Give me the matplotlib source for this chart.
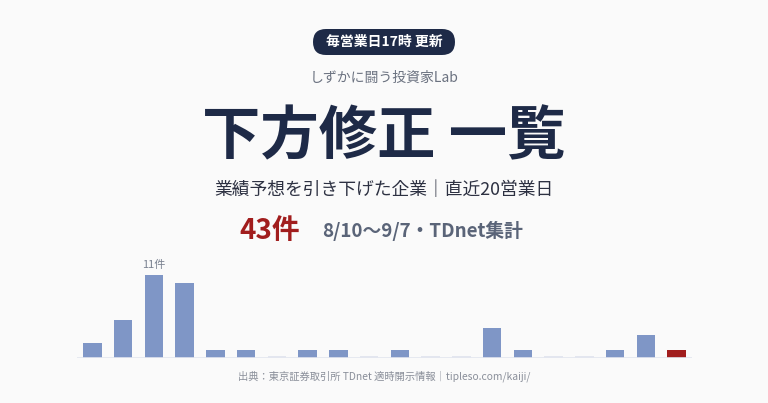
import matplotlib
matplotlib.use("Agg")
import matplotlib.pyplot as plt
from matplotlib.patches import FancyBboxPatch

plt.rcParams['font.family'] = ['Noto Sans CJK JP', 'DejaVu Sans']

# 直近20営業日の下方修正件数
counts = [2, 5, 11, 10, 1, 1, 0, 1, 1, 0, 1, 0, 0, 4, 1, 0, 0, 1, 3, 1]
total_label = "43件"
period_label = "8/10〜9/7・TDnet集計"
badge_label = "毎営業日17時 更新"
brand_label = "しずかに闘う投資家Lab"
title_label = "下方修正 一覧"
subtitle_label = "業績予想を引き下げた企業｜直近20営業日"
source_label = "出典：東京証券取引所 TDnet 適時開示情報｜tipleso.com/kaiji/"

# 色
bg = "#fafafa"
navy = "#1e2a47"
bar_blue = "#7f96c6"
bar_red = "#a11d1d"
stub = "#e3e6ef"
grey = "#6b7280"

W, H = 768, 403
fig = plt.figure(figsize=(W / 100, H / 100), dpi=100, facecolor=bg)

# 全体をピクセル座標で扱う背景用の軸
base = fig.add_axes([0, 0, 1, 1])
base.set_xlim(0, W)
base.set_ylim(H, 0)
base.axis("off")
base.set_facecolor(bg)

# バッジ
badge = FancyBboxPatch((313, 29), 142, 26, boxstyle="round,pad=0,rounding_size=13",
                       fc=navy, ec="none")
base.add_patch(badge)
base.text(384, 42, badge_label, color="white", fontsize=10, fontweight="bold",
          ha="center", va="center")

base.text(384, 78, brand_label, color=grey, fontsize=10, ha="center", va="center")
base.text(384, 137, title_label, color=navy, fontsize=42, fontweight="bold",
          ha="center", va="center")
base.text(384, 190, subtitle_label, color="#2d3142", fontsize=12.8,
          ha="center", va="center")
base.text(300, 231, total_label, color=bar_red, fontsize=20, fontweight="bold",
          ha="right", va="center")
base.text(322, 231, period_label, color="#5a6478", fontsize=13.5, fontweight="bold",
          ha="left", va="center")
base.text(384, 376, source_label, color="#8a8f9a", fontsize=7.4,
          ha="center", va="center")

# 棒グラフ
left, right = 77 / W, 692 / W
bottom = (H - 358) / H
ymax = 13
height = ymax * 7.55 / H
ax = fig.add_axes([left, bottom, right - left, height])
ax.set_facecolor("none")
x = list(range(len(counts)))
vals = [c if c > 0 else 0.25 for c in counts]
colors = [stub if c == 0 else bar_blue for c in counts]
colors[-1] = bar_red
ax.bar(x, vals, width=0.6, color=colors)
ax.axhline(0, color=stub, lw=1.2)
ax.set_xlim(-0.5, len(counts) - 0.5)
ax.set_ylim(0, ymax)
ax.axis("off")

peak = counts.index(max(counts))
ax.text(peak, max(counts) + 0.6, f"{max(counts)}件", color="#7a8190", fontsize=8,
        ha="center", va="bottom")

fig.savefig("out.png", dpi=100, facecolor=bg)
